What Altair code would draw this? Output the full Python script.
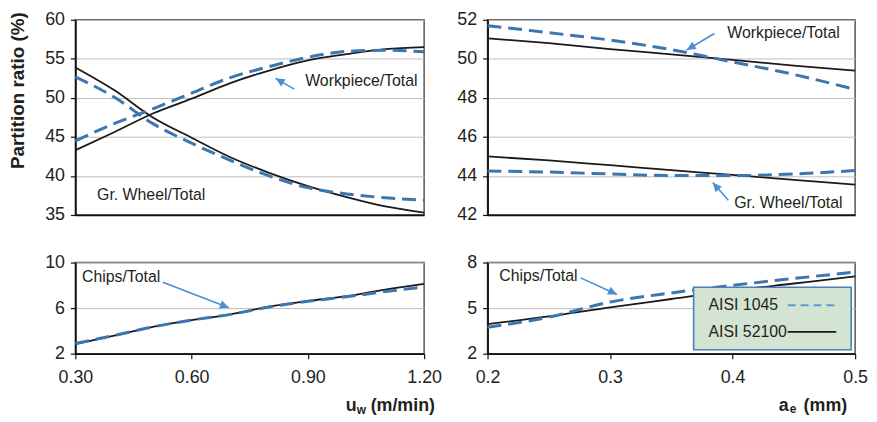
import altair as alt
import pandas as pd

FONT = "Liberation Sans"
TXT = "#231f20"
BLUE_DASH = "#3b76ae"
BLACK = "#1a1a1a"
ARROW = "#4a8fd6"

materials = ["AISI 1045", "AISI 52100"]
series_names = ["Workpiece/Total", "Gr. Wheel/Total", "Chips/Total"]

# ---- workpiece speed u_w (m/min) ----
uw = [0.30, 0.40, 0.50, 0.60, 0.70, 0.80, 0.90, 1.00, 1.10, 1.20]
uw_wp_1045 = [44.5, 46.7, 48.6, 50.6, 52.6, 54.0, 55.2, 55.95, 56.1, 55.9]
uw_wp_52100 = [43.3, 45.6, 48.0, 49.9, 51.9, 53.5, 54.8, 55.6, 56.25, 56.5]
uw_gw_1045 = [52.7, 50.1, 46.7, 44.2, 42.0, 40.0, 38.5, 37.7, 37.2, 36.9]
uw_gw_52100 = [53.9, 51.0, 47.5, 44.9, 42.4, 40.4, 38.7, 37.3, 36.1, 35.3]
uw_ch_1045 = [2.9, 3.6, 4.35, 4.95, 5.45, 6.1, 6.6, 7.0, 7.45, 7.85]
uw_ch_52100 = [2.85, 3.58, 4.36, 4.94, 5.46, 6.13, 6.62, 7.05, 7.63, 8.12]

# ---- depth of cut a_e (mm) ----
ae = [0.20, 0.25, 0.30, 0.35, 0.40, 0.45, 0.50]
ae_wp_1045 = [51.7, 51.34, 50.96, 50.47, 49.84, 49.2, 48.43]
ae_wp_52100 = [51.05, 50.8, 50.5, 50.23, 49.95, 49.65, 49.4]
ae_gw_1045 = [44.25, 44.2, 44.1, 44.02, 44.02, 44.1, 44.28]
ae_gw_52100 = [45.0, 44.8, 44.55, 44.3, 44.05, 43.8, 43.55]
ae_ch_1045 = [3.74, 4.4, 5.4, 6.0, 6.5, 6.95, 7.37]
ae_ch_52100 = [3.95, 4.45, 5.05, 5.6, 6.15, 6.62, 7.09]

uw_ticks = [0.30, 0.60, 0.90, 1.20]
ae_ticks = [0.2, 0.3, 0.4, 0.5]


def long_df(xs, pairs):
    rows = []
    for name, mat, vals in pairs:
        for x, v in zip(xs, vals):
            rows.append({"x": x, "y": v, "series": name, "material": mat})
    return pd.DataFrame(rows)


df_uw_top = long_df(uw, [
    (series_names[0], materials[0], uw_wp_1045), (series_names[0], materials[1], uw_wp_52100),
    (series_names[1], materials[0], uw_gw_1045), (series_names[1], materials[1], uw_gw_52100)])
df_ae_top = long_df(ae, [
    (series_names[0], materials[0], ae_wp_1045), (series_names[0], materials[1], ae_wp_52100),
    (series_names[1], materials[0], ae_gw_1045), (series_names[1], materials[1], ae_gw_52100)])
df_uw_bot = long_df(uw, [(series_names[2], materials[0], uw_ch_1045), (series_names[2], materials[1], uw_ch_52100)])
df_ae_bot = long_df(ae, [(series_names[2], materials[0], ae_ch_1045), (series_names[2], materials[1], ae_ch_52100)])

STYLES = {
    "AISI 52100": dict(color=BLACK, strokeWidth=1.8),
    "AISI 1045": dict(color=BLUE_DASH, strokeWidth=3, strokeDash=[14, 7]),
}


class Panel:
    def __init__(self, xs, ys, xaxis, yaxis):
        self.xs, self.ys, self.xa, self.ya = xs, ys, xaxis, yaxis
        self.layers = []

    def X(self, f):
        return alt.X(f, scale=self.xs, axis=self.xa)

    def Y(self, f):
        return alt.Y(f, scale=self.ys, axis=self.ya)

    def lines(self, df):
        for mat in ["AISI 52100", "AISI 1045"]:
            sub = df[df["material"] == mat]
            self.layers.append(alt.Chart(sub).mark_line(interpolate="monotone", **STYLES[mat]).encode(
                x=self.X("x:Q"), y=self.Y("y:Q"), detail="series:N"))

    def note(self, text, x, y):
        d = pd.DataFrame({"x": [x], "y": [y], "t": [text]})
        self.layers.append(alt.Chart(d).mark_text(align="left", baseline="middle", font=FONT,
                                                  fontSize=16, color=TXT).encode(
            x=self.X("x:Q"), y=self.Y("y:Q"), text="t:N"))

    def arrow(self, x0, y0, x1, y1, ang):
        d = pd.DataFrame({"x": [x0], "y": [y0], "x2": [x1], "y2": [y1]})
        self.layers.append(alt.Chart(d).mark_rule(color=ARROW, strokeWidth=1.6).encode(
            x=self.X("x:Q"), y=self.Y("y:Q"), x2="x2:Q", y2="y2:Q"))
        self.layers.append(alt.Chart(d).mark_point(
            shape="M0,0L0.75,1.6L-0.75,1.6Z", filled=True, size=130, angle=ang, color=ARROW,
            opacity=1, strokeWidth=0).encode(x=self.X("x2:Q"), y=self.Y("y2:Q")))

    def add(self, ch):
        self.layers.append(ch)

    def build(self, w, h):
        return alt.layer(*self.layers).properties(width=w, height=h)


ONE = pd.DataFrame({"k": [0]})


def vtext(txt, x, y, size, bold=True, align="left", baseline="alphabetic"):
    return alt.Chart(ONE).mark_text(align=align, baseline=baseline, font=FONT, fontSize=size,
                                    fontWeight="bold" if bold else "normal", color=TXT).encode(
        x=alt.value(x), y=alt.value(y), text=alt.value(txt))


def yaxis(values, title=None):
    kw = dict(values=values, grid=True, labelPadding=6, title=title)
    if title:
        kw.update(titleFontSize=19, titleFontWeight="bold", titleColor=TXT, titleY=71, titlePadding=17)
    return alt.Axis(**kw)


xaxis_hidden = alt.Axis(labels=False, ticks=False, grid=False, title=None)


def xaxis_shown(values, fmt):
    return alt.Axis(values=values, format=fmt, grid=False, title=None, labelFlush=False,
                    labelPadding=10)


W_L, W_R, H_T, H_B = 352, 371, 197, 92
xs_uw = alt.Scale(domain=[0.3, 1.2], nice=False, zero=False)
xs_ae = alt.Scale(domain=[0.2, 0.5], nice=False, zero=False)

# ---- top left ----
p = Panel(xs_uw, alt.Scale(domain=[35, 60], nice=False, zero=False), xaxis_hidden,
          yaxis([35, 40, 45, 50, 55, 60], "Partition ratio (%)"))
p.lines(df_uw_top)
p.note(series_names[0], 0.893, 52.1)
p.note(series_names[1], 0.356, 37.5)
p.arrow(0.865, 51.125, 0.8165, 52.5, 300)
tl = p.build(W_L, H_T)

# ---- top right ----
p = Panel(xs_ae, alt.Scale(domain=[42, 52], nice=False, zero=False), xaxis_hidden,
          yaxis([42, 44, 46, 48, 50, 52]))
p.lines(df_ae_top)
p.note(series_names[0], 0.3957, 51.32)
p.note(series_names[1], 0.4013, 42.63)
p.arrow(0.3852, 51.30, 0.3625, 50.45, 239.5)
p.arrow(0.3965, 42.75, 0.3838, 43.66, 319.4)
tr = p.build(W_R, H_T)

# ---- bottom left ----
p = Panel(xs_uw, alt.Scale(domain=[2, 10], nice=False, zero=False), xaxis_shown(uw_ticks, ".2f"),
          yaxis([2, 6, 10]))
p.lines(df_uw_bot)
p.note(series_names[2], 0.317, 8.73)
p.arrow(0.5258, 8.27, 0.6963, 6.04, 111.0)
p.add(vtext("u", 273, 150, 18))
p.add(vtext("w", 284, 152.5, 12))
p.add(vtext("(m/min)", 298, 150, 18))
bl = p.build(W_L, H_B)

# ---- bottom right ----
p = Panel(xs_ae, alt.Scale(domain=[2, 8], nice=False, zero=False), xaxis_shown(ae_ticks, ".1f"),
          yaxis([2, 5, 8]))
p.lines(df_ae_bot)
p.note(series_names[2], 0.2095, 7.13)
p.arrow(0.276, 6.99, 0.3057, 5.90, 114.5)
p.add(alt.Chart(ONE).mark_rect(fill="#d4e4d2", stroke="#4b7fb6", strokeWidth=1.6).encode(
    x=alt.value(208), x2=alt.value(367), y=alt.value(25), y2=alt.value(88)))
p.add(vtext(materials[0], 223, 43, 16, bold=False, baseline="middle"))
p.add(vtext(materials[1], 223, 70, 16, bold=False, baseline="middle"))
p.add(alt.Chart(ONE).mark_rule(color="#5b9bd5", strokeWidth=2, strokeDash=[8, 5]).encode(
    x=alt.value(303), x2=alt.value(352), y=alt.value(43)))
p.add(alt.Chart(ONE).mark_rule(color=BLACK, strokeWidth=1.8).encode(
    x=alt.value(303), x2=alt.value(352), y=alt.value(70)))
p.add(vtext("a", 294, 150, 18))
p.add(vtext("e", 305, 152, 12))
p.add(vtext("(mm)", 319, 150, 18))
br = p.build(W_R, H_B)

chart = alt.concat(tl, tr, bl, br, columns=2, spacing={"row": 48, "column": 64},
                   bounds="flush").properties(padding=0).configure_view(
    stroke="#555555", strokeWidth=1.5).configure_axis(
    labelFont=FONT, labelFontSize=18, labelColor=TXT, titleFont=FONT,
    domainColor="#111111", domainWidth=1.8, tickColor="#111111", tickWidth=1.2, tickSize=5,
    gridColor="#bdbdbd", gridWidth=1)

chart.save("out.html", embed_options={"renderer": "svg", "actions": False})
